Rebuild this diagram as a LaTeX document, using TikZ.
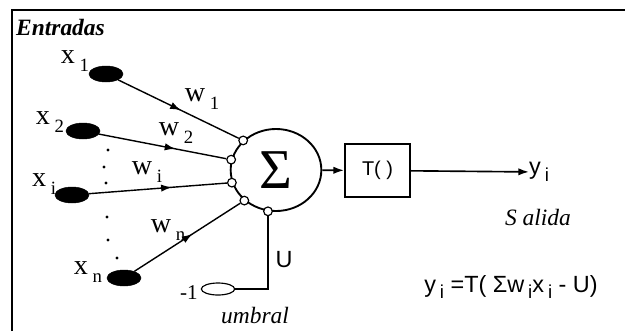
\documentclass[tikz,border=0pt]{standalone}
\usepackage{fontspec}
\setmainfont{Liberation Serif}
\newfontfamily\labelsans{Liberation Sans}
\usetikzlibrary{arrows.meta,shapes.geometric,decorations.markings}
\newcommand{\lowidx}[1]{\raisebox{-0.55ex}{\,\fontsize{16}{18}\selectfont #1}}

\begin{document}
\begin{tikzpicture}[
  x=0.03cm,y=-0.03cm,
  inputdot/.style={draw,fill=black,ellipse,minimum width=1.02cm,minimum height=0.48cm,inner sep=0pt},
  biasdot/.style={draw,fill=white,ellipse,line width=1pt,minimum width=1.0cm,minimum height=0.36cm,inner sep=0pt},
  port/.style={draw,fill=white,circle,minimum size=0.26cm,inner sep=0pt,line width=1pt},
  varlabel/.style={font=\fontsize{24}{26}\selectfont,inner sep=0pt},
  caption/.style={font=\fontsize{20}{24}\selectfont\itshape,inner sep=0pt},
  sanslabel/.style={font=\fontsize{20}{23}\selectfont\labelsans,inner sep=0pt},
  wire/.style={line width=1.2pt},
  midarrow/.style={wire,postaction={decorate},decoration={markings,mark=at position #1 with {\arrow{Latex[length=3.2mm,width=2.2mm]}}}},
  arrow/.style={-{Latex[length=3.2mm,width=2.2mm]},line width=1.4pt}
]
  \useasboundingbox (0,0) rectangle (625,331);
  \fill[white] (0,0) rectangle (625,331);
  % frame
  \draw[line width=1.8pt] (12,331) -- (12,10) -- (625,10);

  % neuron
  \node[draw,ellipse,line width=1.6pt,minimum width=2.72cm,minimum height=2.46cm,inner sep=0pt,
        font=\fontsize{48}{52}\selectfont] (neuron) at (276,170) {Σ};
  \node[draw,line width=1.6pt,minimum width=1.95cm,minimum height=1.6cm,inner sep=0pt,
        font=\fontsize{17}{20}\selectfont\labelsans] (tbox) at (377.5,170.5) {T( )};

  % inputs
  \node[inputdot] (x1) at (106,74) {};
  \node[inputdot] (x2) at (83,131) {};
  \node[inputdot] (xi) at (72,195) {};
  \node[inputdot] (xn) at (124,278) {};
  \node[biasdot] (bias) at (218,289) {};

  \node[varlabel] (lx1) at (75,61) {x\lowidx{1}};
  \node[varlabel] (lx2) at (50,122) {x\lowidx{2}};
  \node[varlabel] (lxi) at (44,184) {x\lowidx{i}};
  \node[varlabel] (lxn) at (88,272) {x\lowidx{n}};
  \node[varlabel,font=\fontsize{18}{20}\selectfont] (lbias) at (189,293) {-1};

  % ports on the neuron
  \node[port] (p1) at (neuron.138) {};
  \node[port] (p2) at (neuron.167) {};
  \node[port] (pi) at (neuron.196) {};
  \node[port] (pn) at (neuron.224) {};
  \node[port] (pb) at (neuron.259) {};

  % weights
  \node[varlabel] (w1) at (202,99) {w\lowidx{1}};
  \node[varlabel] (w2) at (176,133) {w\lowidx{2}};
  \node[varlabel] (wi) at (147,172) {w\lowidx{i}};
  \node[varlabel] (wn) at (168,230) {w\lowidx{n}};
  \node[sanslabel] (u) at (284,260) {U};

  \draw[midarrow=0.52] (x1) -- (p1);
  \draw[midarrow=0.6] (x2) -- (p2);
  \draw[midarrow=0.6] (xi) -- (pi);
  \draw[midarrow=0.55] (xn) -- (pn);
  \draw[wire] (pb) |- (bias);

  % dots between inputs
  \foreach \px/\py in {108/150,104/167,106/183,107/217,108/240,117/258}
    \fill (\px,\py) circle (1.3pt);

  % output
  \node[sanslabel,anchor=west] (yout) at (529,172) {y\lowidx{i}};
  \draw[arrow] (neuron) -- (tbox);
  \draw[arrow] (tbox) -- (yout);

  % texts
  \node[caption,font=\fontsize{20}{24}\selectfont\bfseries\itshape,anchor=west] (entradas) at (16,27) {Entradas};
  \node[caption] (salida) at (538,217) {S alida};
  \node[caption] (umbral) at (255,316) {umbral};
  \node[sanslabel] (formula) at (511,287) {y\lowidx{i} =T( Σw\lowidx{i}x\lowidx{i} - U)};
\end{tikzpicture}
\end{document}
